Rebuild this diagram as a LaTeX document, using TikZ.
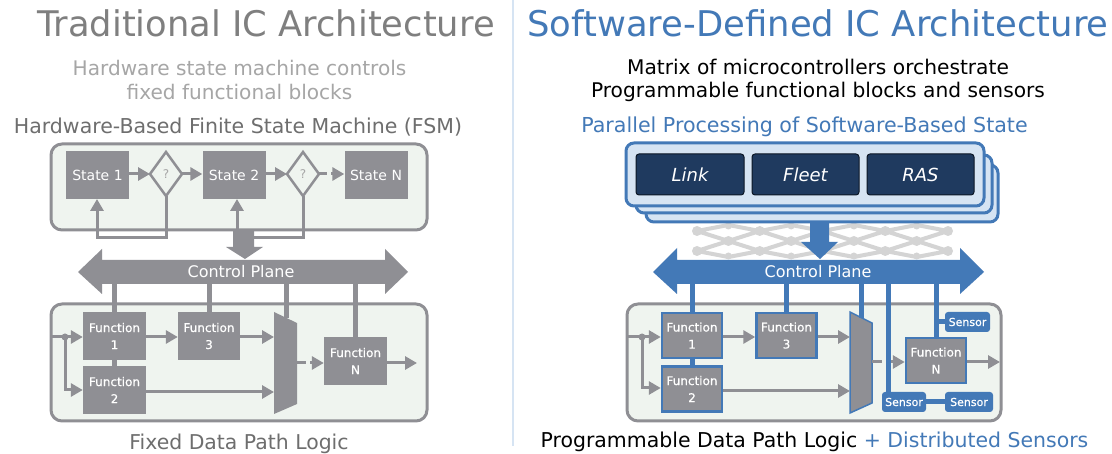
\documentclass[tikz,border=0pt]{standalone}
\usepackage{fontspec}
\setmainfont{DejaVu Sans}
\newfontfamily\fbold[FakeBold=0.6]{DejaVu Sans}
\usetikzlibrary{arrows.meta}
\definecolor{gr}{HTML}{8F8F94}
\definecolor{boxfill}{HTML}{EFF4EF}
\definecolor{bl}{HTML}{4379B7}
\definecolor{navy}{HTML}{1F3A5F}
\definecolor{lblue}{HTML}{D6E4F3}
\definecolor{mesh}{HTML}{D4D4D4}
\definecolor{titlegr}{HTML}{7F7F7F}
\definecolor{subgr}{HTML}{A6A6A6}
\definecolor{fsmgr}{HTML}{6E6E6E}
\newcommand{\fs}[1]{\fontsize{#1}{#1}\selectfont}
\tikzset{
 x=1pt,y=-1pt,
 panel/.style={draw=gr,line width=3pt,fill=boxfill,rounded corners=11pt},
 blk/.style={fill=gr,text=white,inner sep=0pt,align=center,font=\fbold\fontsize{12}{17}\selectfont},
 stt/.style={blk,font=\fs{14}},
 blkb/.style={blk,draw=bl,line width=2.5pt},
 dia/.style={draw=gr,line width=2.5pt,fill=boxfill},
 ln/.style={draw=gr,line width=3pt},
 arr/.style={ln,-{Triangle[length=12pt,width=13pt]}},
 bus/.style={draw=gr,line width=5pt},
 busb/.style={draw=bl,line width=5pt},
 sens/.style={fill=bl,text=white,rounded corners=3pt,inner sep=0pt,font=\fbold\fs{11}},
 cp/.style={text=white,font=\fs{16}},
 cell/.style={fill=navy,draw=black!60!navy,line width=1pt,rounded corners=3pt,text=white,font=\itshape\fs{18},inner sep=0pt},
 stack/.style={draw=bl,line width=3pt,fill=lblue,rounded corners=8pt},
 txt/.style={inner sep=0pt,anchor=center},
 dot/.style={circle,fill=mesh,inner sep=0pt,minimum size=10pt},
 sdot/.style={circle,fill=mesh,inner sep=0pt,minimum size=7pt},
}
\begin{document}
\begin{tikzpicture}
\useasboundingbox (0,0) rectangle (1112,454);
\fill[white] (0,0) rectangle (1112,454);
\draw[draw=lblue,line width=1.5pt] (513,0) -- (513,446);
% texts
\node[txt,text=titlegr,font=\fs{35.3}] (t1) at (266,23) {Traditional IC Architecture};
\node[txt,text=bl,font=\fs{35.4}] (t2) at (818,23) {Software-Defined IC Architecture};
\node[txt,text=subgr,font=\fs{20.1}] (s1) at (239.5,68) {Hardware state machine controls};
\node[txt,text=subgr,font=\fs{20.1}] (s2) at (239.5,92) {fixed functional blocks};
\node[txt,text=fsmgr,font=\fs{20.5}] (h1) at (238,127) {Hardware-Based Finite State Machine (FSM)};
\node[txt,text=black,font=\fs{20.2}] (r1) at (818,67) {Matrix of microcontrollers orchestrate};
\node[txt,text=black,font=\fs{20.2}] (r2) at (818,92) {Programmable functional blocks and sensors};
\node[txt,text=bl,font=\fs{20.6}] (h2) at (804.5,127) {Parallel Processing of Software-Based State};
\node[txt,text=fsmgr,font=\fs{20.4}] (f1) at (239,444) {Fixed Data Path Logic};
\node[txt,font=\fs{20.45}] (f2) at (814.5,442) {Programmable Data Path Logic \textcolor{bl}{+ Distributed Sensors}};

% LEFT FSM
\node[panel,minimum width=376pt,minimum height=86pt] (fsm) at (239,187) {};
\node[stt,minimum width=63pt,minimum height=48pt] (st1) at (97.5,175) {State 1};
\node[stt,minimum width=63pt,minimum height=48pt] (st2) at (234,175) {State 2};
\node[stt,minimum width=63pt,minimum height=48pt] (stn) at (376,175) {State N};
\draw[dia] (166,152) -- (182,174) -- (166,196) -- (150,174) -- cycle;
\node[text=subgr,font=\fs{12}] (q1) at (166,174) {?};
\draw[dia] (303,152) -- (319,174) -- (303,196) -- (287,174) -- cycle;
\node[text=subgr,font=\fs{12}] (q2) at (303,174) {?};
\coordinate (d1w) at (150,174); \coordinate (d1e) at (182,174); \coordinate (d1s) at (166,196);
\coordinate (d2w) at (287,174); \coordinate (d2e) at (319,174); \coordinate (d2s) at (303,196);
\draw[arr] (st1.east|-d1w) -- (d1w);
\draw[arr] (d1e) -- (st2.west|-d1e);
\draw[arr] (st2.east|-d2w) -- (d2w);
\draw[ln] (d2e) -- (327,174);
\draw[arr] (331,174) -- (stn.west|-d2e);
\draw[arr] (d1s) -- (166,238) -- (97,238) -- (97,199);
\draw[ln] (d2s) -- (303,238) -- (250,238);
\draw[arr] (237,232) -- (237,199);
\fill[gr] (233,230) -- (254,230) -- (254,247) -- (263,247) -- (245,259) -- (226,247) -- (233,247) -- cycle;
% LEFT control plane
\fill[gr] (78,272) -- (102,249) -- (102,260) -- (385,260) -- (385,249) -- (408,272) -- (385,294) -- (385,284) -- (102,284) -- (102,294) -- cycle;
\coordinate (cb1) at (0,284);
\node[cp] (cp1) at (241,272) {Control Plane};
% LEFT data path
\node[panel,minimum width=376pt,minimum height=117pt] (dp) at (239,362.5) {};
\node[blk,minimum width=63pt,minimum height=48pt] (a1) at (114.5,336) {Function\\1};
\node[blk,minimum width=63pt,minimum height=48pt] (a2) at (114.5,390) {Function\\2};
\node[blk,minimum width=62pt,minimum height=48pt] (a3) at (209,336) {Function\\3};
\node[blk,minimum width=63pt,minimum height=48pt] (an) at (355.5,361) {Function\\N};
\fill[gr] (274,312) -- (297,323) -- (297,404) -- (274,414) -- cycle;
\coordinate (mux1) at (274,337); \coordinate (mux2) at (274,392); \coordinate (mux3) at (297,363);
\coordinate (inl) at (51,337); \coordinate (outl) at (417,363);
\draw[bus] (a1.north|-cb1) -- (a1.north);
\draw[bus] (a3.north|-cb1) -- (a3.north);
\draw[bus] (286,284) -- (286,318);
\draw[bus] (an.north|-cb1) -- (an.north);
\draw[bus] (a1.south) -- (a2.north);
\draw[arr] (inl) -- (a1.west|-inl);
\draw[arr] (65,337) -- (65,390) -- (a2.west|-0,390);
\fill[gr] (65,337) circle (3.5pt);
\draw[arr] (a1.east|-0,337) -- (a3.west|-0,337);
\draw[arr] (a3.east|-0,337) -- (mux1);
\draw[arr] (a2.east|-0,392) -- (mux2);
\draw[ln] (mux3) -- (306,363);
\draw[arr] (310,363) -- (an.west|-0,363);
\draw[arr] (an.east|-0,363) -- (outl);

% mesh
\foreach \k in {0,...,3}{
 \pgfmathsetmacro{\xa}{697+62.75*\k}
 \pgfmathsetmacro{\xb}{\xa+31.4}
 \pgfmathsetmacro{\xc}{\xa+62.75}
 \draw[mesh,line width=4pt] (\xa,231) -- (\xb,241) -- (\xc,231) (\xa,251) -- (\xb,241) -- (\xc,251) (\xa,231) -- (\xb,225) -- (\xc,231) (\xa,251) -- (\xb,257) -- (\xc,251);
 \node[dot] at (\xb,241) {};
 \node[sdot] at (\xb,226) {};
 \node[sdot] at (\xb,256) {};
}
\foreach \k in {0,...,4}{
 \pgfmathsetmacro{\xa}{697+62.75*\k}
 \node[dot] at (\xa,231) {}; \node[dot] at (\xa,251) {};
}
% RIGHT stack
\draw[stack] (646,165) rectangle (998,222);
\draw[stack] (636,155) rectangle (992,213);
\node[stack,minimum width=358pt,minimum height=63pt,inner sep=0pt] (front) at (805,174.5) {};
\node[cell,minimum width=108pt,minimum height=41pt] (link) at (690,174.5) {Link};
\node[cell,minimum width=107pt,minimum height=41pt] (fleet) at (805.5,174.5) {Fleet};
\node[cell,minimum width=107pt,minimum height=41pt] (ras) at (920.5,174.5) {RAS};
\fill[bl] (810,222) -- (829,222) -- (829,242) -- (838,242) -- (820,259) -- (801,242) -- (810,242) -- cycle;
% RIGHT control plane
\fill[bl] (653,272) -- (677,248) -- (677,260) -- (960,260) -- (960,248) -- (984,272) -- (960,294) -- (960,284) -- (677,284) -- (677,294) -- cycle;
\coordinate (cb2) at (0,284);
\node[cp] (cp2) at (818,272) {Control Plane};
% RIGHT data path
\node[panel,minimum width=374pt,minimum height=117pt] (dpr) at (814,362.5) {};
\node[blkb,minimum width=60pt,minimum height=45pt] (b1) at (692,335.5) {Function\\1};
\node[blkb,minimum width=60pt,minimum height=45pt] (b2) at (692,389) {Function\\2};
\node[blkb,minimum width=60pt,minimum height=45pt] (b3) at (786.5,335.5) {Function\\3};
\node[blkb,minimum width=60pt,minimum height=45pt] (bn) at (936,360.5) {Function\\N};
\fill[gr,draw=bl,line width=1.5pt] (850,312) -- (872,323) -- (872,403) -- (850,413) -- cycle;
\coordinate (rm1) at (850,337); \coordinate (rm2) at (850,391); \coordinate (rm3) at (872,362);
\coordinate (rin) at (627,337); \coordinate (rout) at (1000,362);
\node[sens,minimum width=45pt,minimum height=20pt] (s3) at (967.5,322) {Sensor};
\node[sens,minimum width=44pt,minimum height=20pt] (s4) at (904,402) {Sensor};
\node[sens,minimum width=48pt,minimum height=20pt] (s5) at (969,402) {Sensor};
\draw[busb] (b1.north|-cb2) -- (b1.north);
\draw[busb] (b3.north|-cb2) -- (b3.north);
\draw[busb] (861,284) -- (861,318);
\draw[busb] (888,284) -- (888,392);
\draw[busb] (bn.north|-cb2) -- (bn.north);
\draw[busb] (b1.south) -- (b2.north);
\draw[busb] (bn.north|-s3.west) -- (s3.west);
\draw[busb] (s4.east) -- (s5.west);
\draw[arr] (rin) -- (b1.west|-rin);
\draw[arr] (642,337) -- (642,388) -- (b2.west|-0,388);
\fill[gr] (642,337) circle (3.5pt);
\draw[arr] (b1.east|-0,337) -- (b3.west|-0,337);
\draw[arr] (b3.east|-0,337) -- (rm1);
\draw[arr] (b2.east|-0,391) -- (rm2);
\draw[ln] (rm3) -- (882,362);
\draw[arr] (891,362) -- (bn.west|-0,362);
\draw[arr] (bn.east|-0,362) -- (rout);
\end{tikzpicture}
\end{document}
